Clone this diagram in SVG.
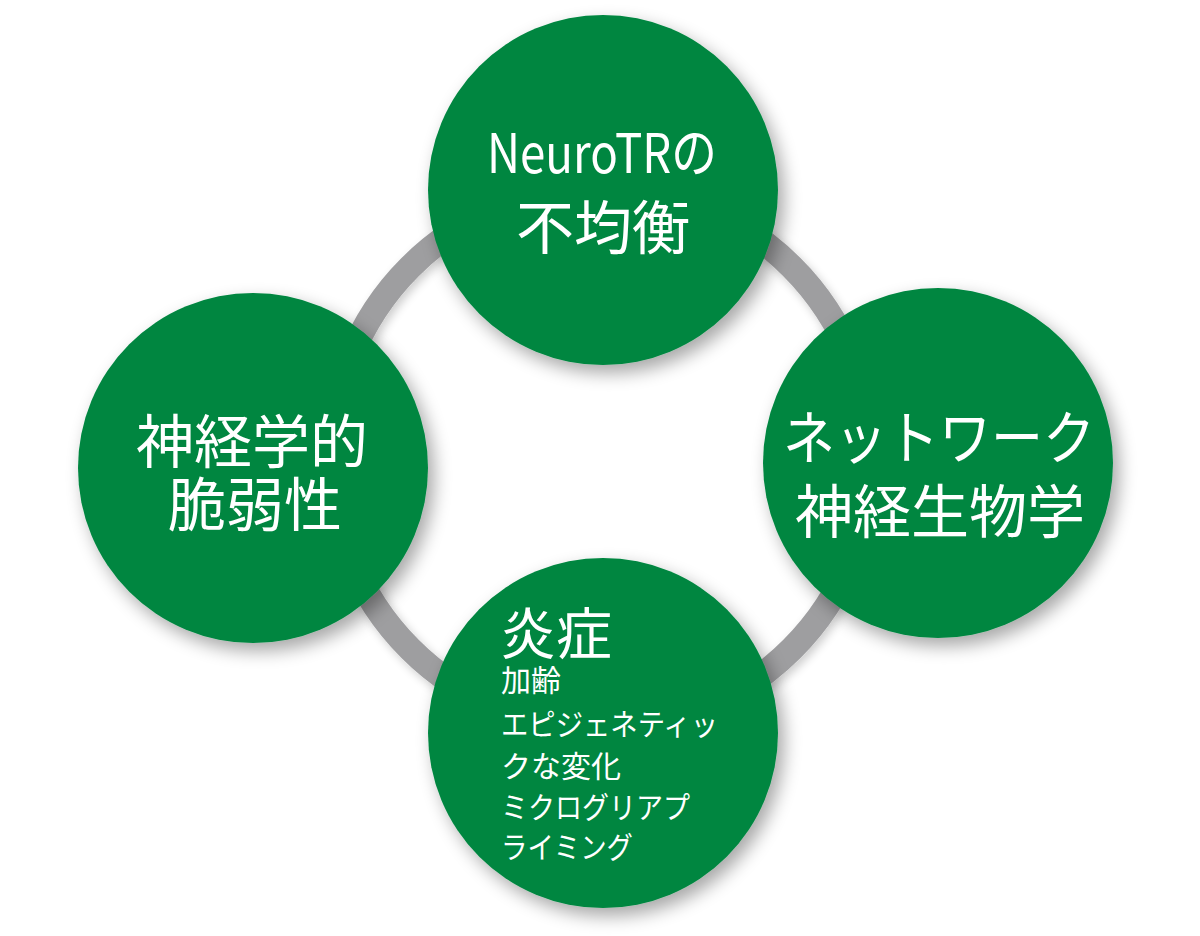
<svg xmlns="http://www.w3.org/2000/svg" width="1200" height="936" viewBox="0 0 1200 936">
<style>
.node{fill:#008641;filter:url(#sh);}
.t{fill:#ffffff;font-family:"Noto Sans CJK JP","Noto Sans",sans-serif;}
.big{font-size:58px;}
.small{font-size:30px;}
.ring{fill:none;stroke:#9e9ea0;stroke-width:25;}
</style>
<defs>
<filter id="sh" x="-20%" y="-20%" width="140%" height="140%">
<feGaussianBlur in="SourceAlpha" stdDeviation="9"/>
<feOffset dx="6" dy="8" result="b"/>
<feComponentTransfer><feFuncA type="linear" slope="0.35"/></feComponentTransfer>
<feMerge><feMergeNode/><feMergeNode in="SourceGraphic"/></feMerge>
</filter>
<filter id="rsh" x="-20%" y="-20%" width="140%" height="140%">
<feGaussianBlur in="SourceAlpha" stdDeviation="5"/>
<feOffset dx="3" dy="4"/>
<feComponentTransfer><feFuncA type="linear" slope="0.2"/></feComponentTransfer>
<feMerge><feMergeNode/><feMergeNode in="SourceGraphic"/></feMerge>
</filter>
</defs>
<rect width="1200" height="936" fill="#ffffff"/>
<g id="connectors">
<circle class="ring" cx="601" cy="458" r="270" filter="url(#rsh)"/>
</g>
<g id="node-top">
<circle class="node" cx="603" cy="190" r="175"/>
<text class="t" x="487" y="173" font-size="54" textLength="230" lengthAdjust="spacingAndGlyphs">NeuroTRの</text>
<text class="t big" x="603" y="249" text-anchor="middle">不均衡</text>
</g>
<g id="node-left">
<circle class="node" cx="253" cy="468" r="175"/>
<text class="t big" x="252" y="463" text-anchor="middle">神経学的</text>
<text class="t big" x="255" y="526" text-anchor="middle">脆弱性</text>
</g>
<g id="node-right">
<circle class="node" cx="938" cy="463" r="175"/>
<text class="t big" x="939" y="459" text-anchor="middle" textLength="312" lengthAdjust="spacingAndGlyphs">ネットワーク</text>
<text class="t big" x="940" y="533" text-anchor="middle">神経生物学</text>
</g>
<g id="node-bottom">
<circle class="node" cx="603" cy="733" r="175"/>
<text class="t" x="500" y="654" font-size="56">炎症</text>
<text class="t small" x="501" y="691">加齢</text>
<text class="t small" x="501" y="735" textLength="217" lengthAdjust="spacingAndGlyphs">エピジェネティッ</text>
<text class="t small" x="501" y="777">クな変化</text>
<text class="t small" x="501" y="818" textLength="189" lengthAdjust="spacingAndGlyphs">ミクログリアプ</text>
<text class="t small" x="501" y="858" textLength="132" lengthAdjust="spacingAndGlyphs">ライミング</text>
</g>
</svg>
